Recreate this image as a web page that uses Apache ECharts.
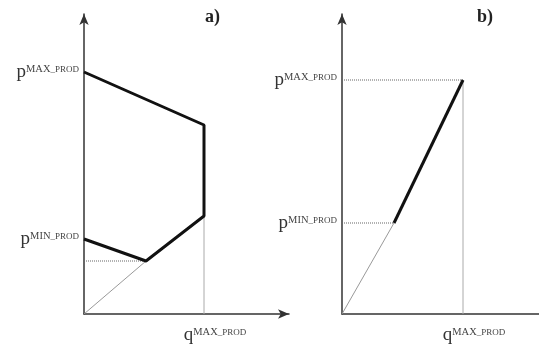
<!DOCTYPE html>
<html>
<head>
<meta charset="utf-8">
<script src="https://cdn.jsdelivr.net/npm/echarts@6/dist/echarts.min.js"></script>
<style>
  html, body { margin: 0; padding: 0; background: #fff; }
  #chart { width: 539px; height: 347px; }
</style>
</head>
<body>
<div id="chart"></div>
<script>
  // panel a) - thick envelope and helper lines
  const aEnvelopeQ = [0, 120, 120, 62, 0];
  const aEnvelopeP = [242, 189, 98, 53, 75];
  const aRayQ = [0, 62];
  const aRayP = [0, 53];
  const aDotQ = [0, 62];
  const aDotP = [53, 53];
  const aVertQ = [120, 120];
  const aVertP = [0, 98];
  const aTicksP = [242, 75];
  const aTicksQ = [120];

  // panel b)
  const bThickQ = [52, 121];
  const bThickP = [91, 234];
  const bRayQ = [0, 52];
  const bRayP = [0, 91];
  const bDotMaxQ = [0, 121];
  const bDotMaxP = [234, 234];
  const bDotMinQ = [0, 52];
  const bDotMinP = [91, 91];
  const bVertQ = [121, 121];
  const bVertP = [0, 234];
  const bTicksP = [234, 91];
  const bTicksQ = [121];

  const tickNames = { 242: 'MAX', 75: 'MIN', 234: 'MAX', 91: 'MIN' };

  const pairs = (qs, ps) => qs.map((q, i) => [q, ps[i]]);

  const serif = 'Liberation Serif';
  const rich = {
    v: { fontFamily: serif, fontSize: 19, color: '#333', verticalAlign: 'middle', lineHeight: 20 },
    s: { fontFamily: serif, fontSize: 10.5, color: '#444', verticalAlign: 'middle', lineHeight: 10, padding: [0, 0, 6, 0] },
    t: { fontFamily: serif, fontSize: 9, color: '#444', verticalAlign: 'middle', lineHeight: 10, padding: [0, 0, 5, 0] }
  };

  const axisLine = (arrow) => ({
    show: true,
    onZero: false,
    symbol: arrow ? ['none', 'arrow'] : ['none', 'none'],
    symbolSize: [7, 11],
    lineStyle: { color: '#333', width: 1.5 }
  });

  const xAx = (idx, max, ticks, arrow) => ({
    type: 'value', gridIndex: idx, min: 0, max: max,
    axisLine: axisLine(arrow), axisTick: { show: false }, splitLine: { show: false },
    axisLabel: {
      customValues: ticks, margin: 11, padding: [0, 0, 0, 22],
      formatter: () => '{v|q}{s|MAX}{t|_PROD}', rich: rich
    }
  });

  const yAx = (idx, ticks) => ({
    type: 'value', gridIndex: idx, min: 0, max: 300,
    axisLine: axisLine(true), axisTick: { show: false }, splitLine: { show: false },
    axisLabel: {
      customValues: ticks, margin: 5,
      formatter: (v) => '{v|p}{s|' + tickNames[v] + '}{t|_PROD}', rich: rich
    }
  });

  const line = (idx, data, style) => ({
    type: 'line', xAxisIndex: idx, yAxisIndex: idx, data: data,
    symbol: 'none', silent: true, z: style.z || 2,
    lineStyle: style
  });

  const chart = echarts.init(document.getElementById('chart'));
  chart.setOption({
    animation: false,
    backgroundColor: '#fff',
    title: [
      { text: 'a)', left: 200, top: 3, textStyle: { fontFamily: serif, fontSize: 18, fontWeight: 'bold', color: '#222' } },
      { text: 'b)', left: 472, top: 3, textStyle: { fontFamily: serif, fontSize: 18, fontWeight: 'bold', color: '#222' } }
    ],
    grid: [
      { left: 84, top: 14, width: 205, height: 300, outerBoundsMode: 'none' },
      { left: 342, top: 14, width: 197, height: 300, outerBoundsMode: 'none' }
    ],
    xAxis: [xAx(0, 205, aTicksQ, true), xAx(1, 197, bTicksQ, false)],
    yAxis: [yAx(0, aTicksP), yAx(1, bTicksP)],
    series: [
      line(0, pairs(aRayQ, aRayP), { color: '#999', width: 1 }),
      line(0, pairs(aDotQ, aDotP), { color: '#666', width: 1, type: 'dotted' }),
      line(0, pairs(aVertQ, aVertP), { color: '#aaa', width: 1 }),
      line(0, pairs(aEnvelopeQ, aEnvelopeP), { color: '#111', width: 3, z: 5 }),
      line(1, pairs(bRayQ, bRayP), { color: '#999', width: 1 }),
      line(1, pairs(bDotMaxQ, bDotMaxP), { color: '#666', width: 1, type: 'dotted' }),
      line(1, pairs(bDotMinQ, bDotMinP), { color: '#666', width: 1, type: 'dotted' }),
      line(1, pairs(bVertQ, bVertP), { color: '#aaa', width: 1 }),
      line(1, pairs(bThickQ, bThickP), { color: '#111', width: 3, z: 5 })
    ]
  });
</script>
</body>
</html>
